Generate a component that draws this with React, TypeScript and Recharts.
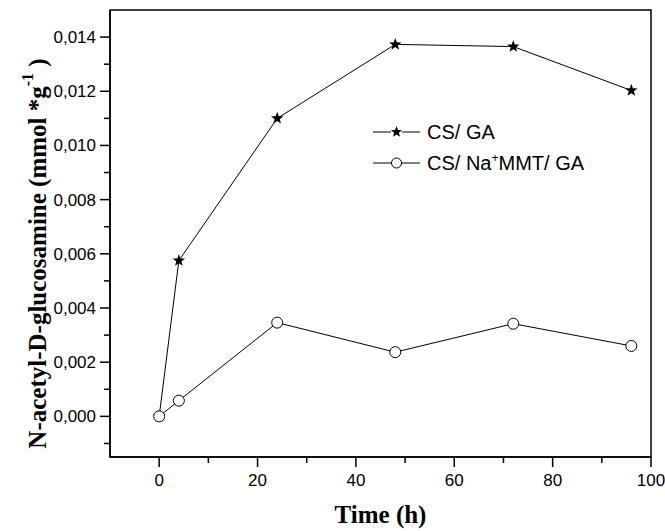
import React from 'react';
import {
  LineChart,
  Line,
  XAxis,
  YAxis,
  Legend,
  ReferenceArea,
} from 'recharts';

const times = [0, 4, 24, 48, 72, 96];
const csGa = [0, 0.00575, 0.011, 0.01373, 0.01365, 0.01203];
const csNaMmtGa = [0, 0.00058, 0.00346, 0.00237, 0.00342, 0.0026];

const xTicks = [0, 10, 20, 30, 40, 50, 60, 70, 80, 90, 100];
const yTicks = [-0.001, 0, 0.001, 0.002, 0.003, 0.004, 0.005, 0.006, 0.007, 0.008, 0.009, 0.01, 0.011, 0.012, 0.013, 0.014];

const data = times.map((t, i) => ({ time: t, csGa: csGa[i], csNa: csNaMmtGa[i] }));

const tickFont = "'Liberation Sans', Arial, sans-serif";
const labelFont = "'Liberation Serif', 'Times New Roman', serif";

const starPoints = (cx: number, cy: number, outer: number, inner: number) => {
  const pts: string[] = [];
  for (let i = 0; i < 10; i++) {
    const r = i % 2 === 0 ? outer : inner;
    const a = -Math.PI / 2 + (i * Math.PI) / 5;
    pts.push(`${cx + r * Math.cos(a)},${cy + r * Math.sin(a)}`);
  }
  return pts.join(' ');
};

const StarDot = (props: any) => {
  const { cx, cy, index } = props;
  if (cx == null || cy == null) return <g key={index} />;
  return <polygon key={index} points={starPoints(cx, cy, 6.5, 2.7)} fill="#000" />;
};

const CircleDot = (props: any) => {
  const { cx, cy, index } = props;
  if (cx == null || cy == null) return <g key={index} />;
  return <circle key={index} cx={cx} cy={cy} r={5.5} fill="#fff" stroke="#000" strokeWidth={1} />;
};

const YTick = (props: any) => {
  const { x, y, payload } = props;
  const v = payload.value;
  const major = Math.round(v * 1000) % 2 === 0;
  return (
    <g>
      <line x1={x - (major ? 10 : 6)} y1={y} x2={x} y2={y} stroke="#000" strokeWidth={1.5} />
      {major && (
        <text x={x - 14} y={y} dy={6} textAnchor="end" fontFamily={tickFont} fontSize={17} fill="#000">
          {v.toFixed(3).replace('.', ',')}
        </text>
      )}
    </g>
  );
};

const XTick = (props: any) => {
  const { x, y, payload } = props;
  const v = payload.value;
  const major = v % 20 === 0;
  return (
    <g>
      <line x1={x} y1={y} x2={x} y2={y + (major ? 10 : 6)} stroke="#000" strokeWidth={1.5} />
      {major && (
        <text x={x} y={y + 29} textAnchor="middle" fontFamily={tickFont} fontSize={17} fill="#000">
          {v}
        </text>
      )}
    </g>
  );
};

const YLabel = (props: any) => {
  const { viewBox } = props;
  const cx = viewBox.x + 37;
  const cy = viewBox.y + viewBox.height / 2 + 20;
  return (
    <text
      x={cx}
      y={cy}
      transform={`rotate(-90, ${cx}, ${cy})`}
      textAnchor="middle"
      dominantBaseline="central"
      fontFamily={labelFont}
      fontWeight="bold"
      fontSize={25}
      fill="#000"
    >
      N-acetyl-D-glucosamine (mmol *g
      <tspan dy={-10} fontSize={16}>-1</tspan>
      <tspan dy={10}> )</tspan>
    </text>
  );
};

const XLabel = (props: any) => {
  const { viewBox } = props;
  return (
    <text
      x={viewBox.x + viewBox.width / 2}
      y={viewBox.y + 66}
      textAnchor="middle"
      fontFamily={labelFont}
      fontWeight="bold"
      fontSize={25}
      fill="#000"
    >
      Time (h)
    </text>
  );
};

const LegendContent = () => {
  const row = (marker: React.ReactNode, label: React.ReactNode) => (
    <div style={{ display: 'flex', alignItems: 'center', height: 31 }}>
      <svg width={54} height={20}>
        <line x1={0} y1={10} x2={18} y2={10} stroke="#000" strokeWidth={1} />
        <line x1={29} y1={10} x2={47} y2={10} stroke="#000" strokeWidth={1} />
        {marker}
      </svg>
      <span style={{ fontFamily: tickFont, fontSize: 20, color: '#000', lineHeight: '20px', whiteSpace: 'nowrap' }}>
        {label}
      </span>
    </div>
  );
  return (
    <div>
      {row(<polygon points={starPoints(23.5, 10, 6, 2.5)} fill="#000" />, 'CS/ GA')}
      {row(
        <circle cx={23.5} cy={10} r={5} fill="#fff" stroke="#000" strokeWidth={1} />,
        <>
          CS/ Na<sup style={{ fontSize: 12, verticalAlign: 'top', lineHeight: '10px' }}>+</sup>MMT/ GA
        </>
      )}
    </div>
  );
};

export default function App() {
  return (
    <div style={{ position: 'fixed', left: 0, top: 0, background: '#fff' }}>
      <LineChart width={665} height={531} data={data} margin={{ top: 10, right: 14, bottom: 0, left: 0 }}>
        <XAxis
          dataKey="time"
          type="number"
          domain={[-10, 100]}
          ticks={xTicks}
          interval={0}
          height={74}
          tickSize={0}
          tickMargin={0}
          tickLine={false}
          axisLine={{ stroke: '#000', strokeWidth: 1.5 }}
          tick={<XTick />}
          label={<XLabel />}
          allowDataOverflow
        />
        <YAxis
          type="number"
          domain={[-0.0015, 0.015]}
          ticks={yTicks}
          interval={0}
          width={110}
          tickSize={0}
          tickMargin={0}
          tickLine={false}
          axisLine={{ stroke: '#000', strokeWidth: 1.5 }}
          tick={<YTick />}
          label={<YLabel />}
          allowDataOverflow
        />
        <ReferenceArea
          x1={-10}
          x2={100}
          y1={-0.0015}
          y2={0.015}
          fill="none"
          fillOpacity={0}
          stroke="#000"
          strokeWidth={1.5}
          ifOverflow="visible"
        />
        <Legend
          layout="vertical"
          verticalAlign="middle"
          align="center"
          content={<LegendContent />}
          wrapperStyle={{ position: 'absolute', left: 373, top: 116, width: 270 }}
        />
        <Line
          dataKey="csGa"
          name="CS/ GA"
          type="linear"
          stroke="#000"
          strokeWidth={1}
          dot={<StarDot />}
          activeDot={false}
          isAnimationActive={false}
        />
        <Line
          dataKey="csNa"
          name="CS/ Na+MMT/ GA"
          type="linear"
          stroke="#000"
          strokeWidth={1}
          dot={<CircleDot />}
          activeDot={false}
          isAnimationActive={false}
        />
      </LineChart>
    </div>
  );
}
